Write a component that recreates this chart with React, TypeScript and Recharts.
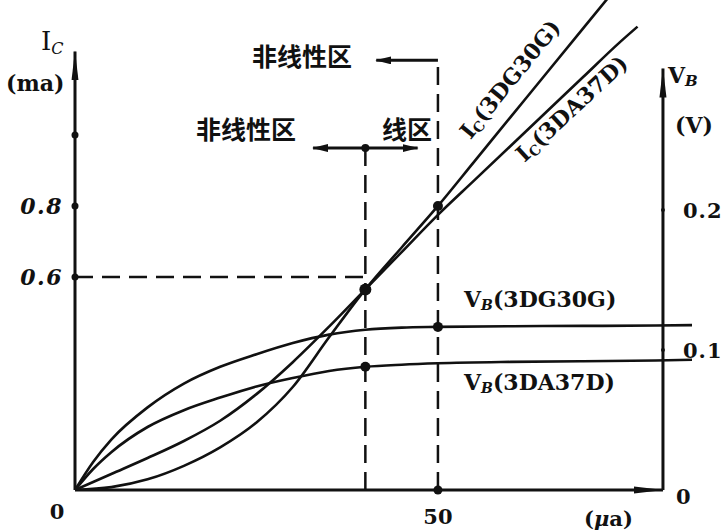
import { ComposedChart, Line, XAxis, YAxis, ReferenceLine, ReferenceDot } from 'recharts'

// base current (μa) sample points and curves
const icX = [0, 5, 10, 15, 20, 25, 30, 35, 40, 45, 50, 55, 60, 65, 70, 75]
const ic3DG30G = [0, 0.008, 0.03, 0.068, 0.12, 0.19, 0.29, 0.43, 0.565, 0.683, 0.8, 0.925, 1.05, 1.175, 1.3, 1.425]
const icXDA = [0, 5, 10, 15, 20, 25, 30, 35, 40, 45, 50, 55, 60, 65, 70, 75, 77.5]
const ic3DA37D = [0, 0.045, 0.09, 0.138, 0.195, 0.27, 0.36, 0.46, 0.565, 0.67, 0.775, 0.872, 0.969, 1.066, 1.163, 1.26, 1.305]

const vbX = [0, 2.5, 5, 10, 15, 20, 25, 30, 35, 40, 45, 50, 60, 70, 80, 85]
const vb3DG30G = [0, 0.02, 0.036, 0.059, 0.076, 0.088, 0.097, 0.105, 0.111, 0.1145, 0.116, 0.1165, 0.117, 0.1172, 0.1175, 0.1178]
const vb3DA37D = [0, 0.015, 0.027, 0.045, 0.057, 0.066, 0.074, 0.08, 0.085, 0.088, 0.0895, 0.0905, 0.0915, 0.092, 0.0925, 0.093]

const xTicks = [0, 50]
const icTicks = [0.6, 0.8]
const icTickDots = [0.6, 0.8, 1.0]
const vbTicks = [0, 0.1, 0.2]

const xMax = 85
const vbAxisX = 81
const icTop = 1.38
const vbTop = 0.35
const icAxisEnd = 1.235
const vbAxisEnd = 0.301
const upperBracket = 1.21
const lowerBracket = 0.963

const ink = '#111'
const serif = '"DejaVu Serif", serif'
const cjk = '"Noto Sans CJK SC", sans-serif'

const toPoints = (xs: number[], ys: number[]) => xs.map((x, i) => ({ x, y: ys[i] }))
const at = (xs: number[], ys: number[], x: number) => ys[xs.indexOf(x)]

function XTick({ x, y, payload }: any) {
  const v = payload.value
  return (
    <text x={v === 0 ? x - 18 : x} y={v === 0 ? y + 21 : y + 26} textAnchor="middle"
      fontFamily={serif} fontWeight="bold" fontSize={21} fill={ink}>{v}</text>
  )
}

function IcTick({ x, y, payload }: any) {
  return (
    <text x={x} y={y + 8} textAnchor="end" fontFamily={serif} fontWeight="bold"
      fontStyle="italic" fontSize={22} letterSpacing={1.5} fill={ink}>{payload.value.toFixed(1)}</text>
  )
}

function VbTick({ x, y, payload }: any) {
  const v = payload.value
  return (
    <text x={v === 0 ? x - 16 : x - 9} y={v === 0 ? y + 14 : y + 8} textAnchor="start"
      fontFamily={serif} fontWeight="bold" fontSize={21} letterSpacing={1} fill={ink}>{v === 0 ? '0' : v.toFixed(1)}</text>
  )
}

const dashed = { stroke: ink, strokeWidth: 2.5, strokeDasharray: '18 9' }

export default function App() {
  return (
    <div style={{ position: 'absolute', left: 0, top: 0, background: '#fff' }}>
      <ComposedChart width={725} height={531} margin={{ top: 0, right: 0, bottom: 0, left: 0 }}>
        <defs>
          <marker id="axisArrow" viewBox="0 0 30 8" refX="29" refY="4" markerWidth="30" markerHeight="8"
            markerUnits="userSpaceOnUse" orient="auto">
            <path d="M0,0.5 L30,4 L0,7.5 z" fill={ink} />
          </marker>
          <marker id="pointer" viewBox="0 0 16 8" refX="15" refY="4" markerWidth="16" markerHeight="8"
            markerUnits="userSpaceOnUse" orient="auto">
            <path d="M0,0 L16,4 L0,8 z" fill={ink} />
          </marker>
        </defs>

        <XAxis type="number" dataKey="x" domain={[0, xMax]} ticks={xTicks} height={41}
          axisLine={false} tickLine={false} tick={<XTick />} allowDataOverflow />
        <YAxis yAxisId="ic" domain={[0, icTop]} ticks={icTicks} width={75} allowDataOverflow
          axisLine={false} tickLine={false} tickSize={0} tickMargin={12} tick={<IcTick />} />
        <YAxis yAxisId="vb" orientation="right" domain={[0, vbTop]} ticks={vbTicks} width={33} allowDataOverflow
          axisLine={false} tickLine={false} tickSize={0} tickMargin={0} tick={<VbTick />} />

        {/* axes */}
        <ReferenceLine yAxisId="ic" segment={[{ x: 0, y: 0 }, { x: 0, y: icAxisEnd }]}
          stroke={ink} strokeWidth={3} markerEnd="url(#axisArrow)" />
        <ReferenceLine yAxisId="ic" segment={[{ x: 0, y: 0 }, { x: vbAxisX, y: 0 }]}
          stroke={ink} strokeWidth={3} markerEnd="url(#axisArrow)" />
        <ReferenceLine yAxisId="vb" segment={[{ x: vbAxisX, y: 0 }, { x: vbAxisX, y: vbAxisEnd }]}
          stroke={ink} strokeWidth={3} markerEnd="url(#axisArrow)" />

        {/* region guides */}
        <ReferenceLine yAxisId="ic" segment={[{ x: 0, y: 0.6 }, { x: 40, y: 0.6 }]} {...dashed} />
        <ReferenceLine yAxisId="ic" segment={[{ x: 40, y: 0 }, { x: 40, y: lowerBracket }]} {...dashed} />
        <ReferenceLine yAxisId="ic" segment={[{ x: 50, y: 0 }, { x: 50, y: upperBracket }]} {...dashed} />
        <ReferenceLine yAxisId="ic" segment={[{ x: 50, y: upperBracket }, { x: 41.5, y: upperBracket }]}
          stroke={ink} strokeWidth={3} markerEnd="url(#pointer)" />
        <ReferenceLine yAxisId="ic" segment={[{ x: 40, y: lowerBracket }, { x: 32.8, y: lowerBracket }]}
          stroke={ink} strokeWidth={3} markerEnd="url(#pointer)" />
        <ReferenceLine yAxisId="ic" segment={[{ x: 40, y: lowerBracket }, { x: 47.2, y: lowerBracket }]}
          stroke={ink} strokeWidth={3} markerEnd="url(#pointer)" />

        <Line yAxisId="ic" data={toPoints(icX, ic3DG30G)} dataKey="y" type="monotone" stroke={ink}
          strokeWidth={2.6} dot={false} isAnimationActive={false} />
        <Line yAxisId="ic" data={toPoints(icXDA, ic3DA37D)} dataKey="y" type="monotone" stroke={ink}
          strokeWidth={2.6} dot={false} isAnimationActive={false} />
        <Line yAxisId="vb" data={toPoints(vbX, vb3DG30G)} dataKey="y" type="monotone" stroke={ink}
          strokeWidth={2.6} dot={false} isAnimationActive={false} />
        <Line yAxisId="vb" data={toPoints(vbX, vb3DA37D)} dataKey="y" type="monotone" stroke={ink}
          strokeWidth={2.6} dot={false} isAnimationActive={false} />

        {icTickDots.map((v) => (
          <ReferenceDot key={v} yAxisId="ic" x={0} y={v} r={3.5} fill={ink} stroke="none" />
        ))}
        {vbTicks.slice(1).map((v) => (
          <ReferenceDot key={v} yAxisId="vb" x={vbAxisX} y={v} r={2} fill={ink} stroke="none" />
        ))}
        <ReferenceDot yAxisId="ic" x={50} y={0} r={4.5} fill={ink} stroke="none" />
        <ReferenceDot yAxisId="ic" x={40} y={lowerBracket} r={4} fill={ink} stroke="none" />
        <ReferenceDot yAxisId="ic" x={40} y={at(icX, ic3DG30G, 40)} r={6} fill={ink} stroke="none" />
        <ReferenceDot yAxisId="ic" x={50} y={at(icX, ic3DG30G, 50)} r={5} fill={ink} stroke="none" />
        <ReferenceDot yAxisId="vb" x={40} y={at(vbX, vb3DA37D, 40)} r={5} fill={ink} stroke="none" />
        <ReferenceDot yAxisId="vb" x={50} y={at(vbX, vb3DG30G, 50)} r={5} fill={ink} stroke="none" />

        {/* axis titles */}
        <text x={41} y={50} fontFamily={serif} fontSize={26} fill={ink}>
          I<tspan fontSize={16} fontStyle="italic" dy={4}>C</tspan>
        </text>
        <text x={6} y={91} fontFamily={serif} fontWeight="bold" fontSize={22} fill={ink}>(ma)</text>
        <text x={668} y={83} fontFamily={serif} fontWeight="bold" fontSize={22} fill={ink}>
          V<tspan fontSize={15} fontStyle="italic" dy={3}>B</tspan>
        </text>
        <text x={675} y={133} fontFamily={serif} fontWeight="bold" fontSize={22} fill={ink}>(V)</text>
        <text x={584} y={526} fontFamily={serif} fontWeight="bold" fontSize={21} fill={ink}>
          (<tspan fontStyle="italic">μ</tspan>a)
        </text>

        {/* curve labels */}
        <text transform="translate(516,84) rotate(-51)" textAnchor="middle" fontFamily={serif}
          fontWeight="bold" fontSize={22} fill={ink}>
          I<tspan fontSize={14} dy={3}>C</tspan><tspan dy={-3}>(3DG30G)</tspan>
        </text>
        <text transform="translate(577,114) rotate(-43)" textAnchor="middle" fontFamily={serif}
          fontWeight="bold" fontSize={22} fill={ink}>
          I<tspan fontSize={14} dy={3}>C</tspan><tspan dy={-3}>(3DA37D)</tspan>
        </text>
        <text x={464} y={307} fontFamily={serif} fontWeight="bold" fontSize={22} fill={ink}>
          V<tspan fontSize={14} fontStyle="italic" dy={3}>B</tspan><tspan dy={-3}>(3DG30G)</tspan>
        </text>
        <text x={464} y={390} fontFamily={serif} fontWeight="bold" fontSize={22} fill={ink}>
          V<tspan fontSize={14} fontStyle="italic" dy={3}>B</tspan><tspan dy={-3}>(3DA37D)</tspan>
        </text>

        {/* region notes */}
        <text x={252} y={66} fontFamily={cjk} fontWeight="bold" fontSize={25} fill={ink}>非线性区</text>
        <text x={196} y={139} fontFamily={cjk} fontWeight="bold" fontSize={25} fill={ink}>非线性区</text>
        <text x={382} y={139} fontFamily={cjk} fontWeight="bold" fontSize={25} fill={ink}>线区</text>
      </ComposedChart>
    </div>
  )
}
